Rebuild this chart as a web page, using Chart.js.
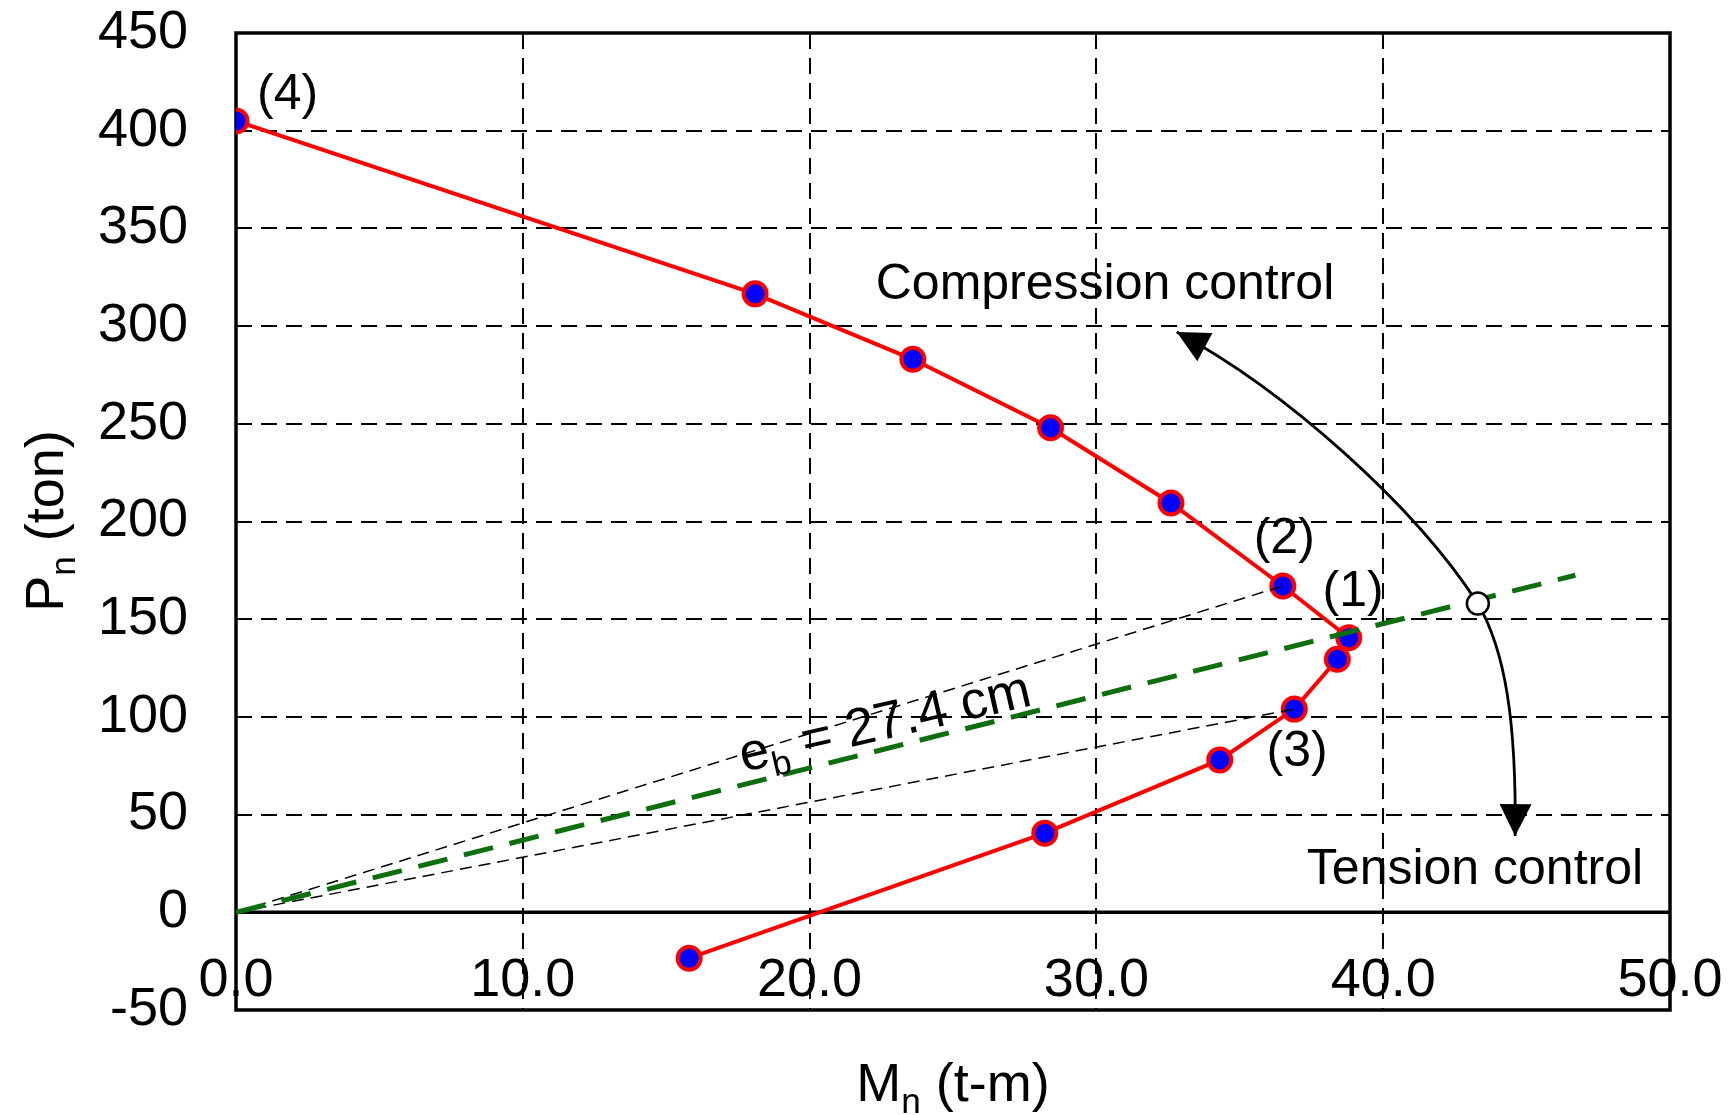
<!DOCTYPE html>
<html>
<head>
<meta charset="utf-8">
<script src="https://cdn.jsdelivr.net/npm/chart.js@4.4.0/dist/chart.umd.min.js"></script>
<style>
  html, body { margin: 0; padding: 0; background: #fff; }
  canvas { display: block; }
</style>
</head>
<body>
<canvas id="chart" width="1733" height="1115"></canvas>
<script>
// interaction diagram: Mn (t-m) vs Pn (ton)
const mnValues = [0.0, 18.1, 23.6, 28.4, 32.6, 36.5, 38.8, 38.4, 36.9, 34.3, 28.2, 15.8];
const pnValues = [405, 316.5, 283, 248, 209.5, 167, 140.5, 129.5, 104, 78, 40.5, -23.5];

// balanced eccentricity line eb = 27.4 cm
const ebLineM = [0, 46.7];
const ebLineP = [0, 172.5];

// open marker where the arc crosses the eb line
const markM = [43.3];
const markP = [158];

// curved arrows (start, control 1, control 2, tip) in data units
const arcUpM = [43.3, 41.1, 36.6, 32.8];
const arcUpP = [158, 208, 267, 297];
const arcDownM = [43.3, 44.25, 44.65, 44.6];
const arcDownP = [158, 134, 98, 39];

// axis ticks
const mTicks = [0, 10, 20, 30, 40, 50];
const pTicks = [-50, 0, 50, 100, 150, 200, 250, 300, 350, 400, 450];
const mTickRow = -35; // x tick labels sit inside the plot, below zero

// point labels
const labelText = ['(4)', '(2)', '(1)', '(3)', 'Compression control', 'Tension control'];
const labelM = [1.8, 36.55, 38.95, 37.0, 30.3, 43.2];
const labelP = [418, 191, 164, 82, 321, 21.5];

const FONT = '"Liberation Sans", Arial, sans-serif';

const pts = (xs, ys) => xs.map((x, i) => ({ x: x, y: ys[i] }));
// rays from origin to points (2) and (3)
const ray2 = pts([0, mnValues[5]], [0, pnValues[5]]);
const ray3 = pts([0, mnValues[8]], [0, pnValues[8]]);

function subText(ctx, parts, cx, cy, size) {
  // parts: [text, isSub]
  let w = 0;
  parts.forEach(p => {
    ctx.font = (p[1] ? size * 0.65 : size) + 'px ' + FONT;
    w += ctx.measureText(p[0]).width;
  });
  let x = cx - w / 2;
  ctx.textAlign = 'left';
  ctx.textBaseline = 'alphabetic';
  parts.forEach(p => {
    ctx.font = (p[1] ? size * 0.65 : size) + 'px ' + FONT;
    ctx.fillText(p[0], x, cy + size * 0.36 + (p[1] ? size * 0.22 : 0));
    x += ctx.measureText(p[0]).width;
  });
}

function arrowHead(ctx, tx, ty, fx, fy) {
  const a = Math.atan2(ty - fy, tx - fx);
  const len = 32, hw = 16;
  ctx.beginPath();
  ctx.moveTo(tx, ty);
  ctx.lineTo(tx - len * Math.cos(a) + hw * Math.sin(a), ty - len * Math.sin(a) - hw * Math.cos(a));
  ctx.lineTo(tx - len * Math.cos(a) - hw * Math.sin(a), ty - len * Math.sin(a) + hw * Math.cos(a));
  ctx.closePath();
  ctx.fill();
}

const overlay = {
  id: 'overlay',
  beforeDatasetsDraw(chart) {
    const ctx = chart.ctx, a = chart.chartArea;
    const xs = chart.scales.x, ys = chart.scales.y;
    ctx.save();
    ctx.strokeStyle = '#000';
    ctx.lineWidth = 3.5;
    ctx.setLineDash([]);
    ctx.strokeRect(a.left, a.top, a.right - a.left, a.bottom - a.top);
    // zero line
    const y0 = ys.getPixelForValue(0);
    ctx.beginPath();
    ctx.moveTo(a.left, y0);
    ctx.lineTo(a.right, y0);
    ctx.stroke();

    // x tick labels, from the x scale's ticks
    ctx.fillStyle = '#000';
    ctx.font = '54px ' + FONT;
    ctx.textAlign = 'center';
    ctx.textBaseline = 'middle';
    xs.ticks.forEach(t => {
      ctx.fillText(t.value.toFixed(1), xs.getPixelForValue(t.value), ys.getPixelForValue(mTickRow));
    });

    // curved arrows
    ctx.lineWidth = 2.8;
    [[arcUpM, arcUpP], [arcDownM, arcDownP]].forEach(arc => {
      const px = arc[0].map(v => xs.getPixelForValue(v));
      const py = arc[1].map(v => ys.getPixelForValue(v));
      ctx.beginPath();
      ctx.moveTo(px[0], py[0]);
      ctx.bezierCurveTo(px[1], py[1], px[2], py[2], px[3], py[3]);
      ctx.stroke();
      arrowHead(ctx, px[3], py[3], px[2], py[2]);
    });
    ctx.restore();
  },
  afterDatasetsDraw(chart) {
    const ctx = chart.ctx, a = chart.chartArea;
    const xs = chart.scales.x, ys = chart.scales.y;
    ctx.save();
    ctx.fillStyle = '#000';
    ctx.textAlign = 'center';
    ctx.textBaseline = 'middle';
    ctx.font = '50px ' + FONT;
    labelText.forEach((t, i) => {
      ctx.fillText(t, xs.getPixelForValue(labelM[i]), ys.getPixelForValue(labelP[i]));
    });

    // eb label, rotated along the rays
    ctx.save();
    ctx.translate(xs.getPixelForValue(22.6), ys.getPixelForValue(98.5));
    ctx.rotate(-13 * Math.PI / 180);
    subText(ctx, [['e', false], ['b', true], [' = 27.4 cm', false]], 0, 0, 53);
    ctx.restore();

    // axis titles
    subText(ctx, [['M', false], ['n', true], [' (t-m)', false]], (a.left + a.right) / 2, 1082, 54);
    ctx.save();
    ctx.translate(44, 521);
    ctx.rotate(-Math.PI / 2);
    subText(ctx, [['P', false], ['n', true], [' (ton)', false]], 0, 0, 54);
    ctx.restore();
    ctx.restore();
  }
};

new Chart(document.getElementById('chart'), {
  type: 'scatter',
  data: {
    datasets: [
      {
        data: pts(markM, markP),
        pointRadius: 11,
        pointBackgroundColor: '#fff',
        pointBorderColor: '#000',
        pointBorderWidth: 2.5
      },
      {
        data: pts(ebLineM, ebLineP),
        showLine: true,
        borderColor: '#0c6e0c',
        borderWidth: 5,
        borderDash: [30, 17],
        pointRadius: 0
      },
      {
        data: ray2,
        showLine: true,
        borderColor: '#000',
        borderWidth: 1.5,
        borderDash: [12, 7],
        pointRadius: 0
      },
      {
        data: ray3,
        showLine: true,
        borderColor: '#000',
        borderWidth: 1.5,
        borderDash: [12, 7],
        pointRadius: 0
      },
      {
        data: pts(mnValues, pnValues),
        showLine: true,
        borderColor: '#ff0000',
        borderWidth: 4,
        pointRadius: 11.5,
        pointBackgroundColor: '#0000ff',
        pointBorderColor: '#ff0000',
        pointBorderWidth: 4
      }
    ]
  },
  options: {
    responsive: false,
    animation: false,
    layout: { padding: { left: 0, right: 63, top: 33, bottom: 0 } },
    plugins: { legend: { display: false }, tooltip: { enabled: false } },
    scales: {
      x: {
        type: 'linear',
        min: mTicks[0],
        max: mTicks[mTicks.length - 1],
        afterBuildTicks: s => { s.ticks = mTicks.map(v => ({ value: v })); },
        afterFit: s => { s.height = 105; s.paddingLeft = 0; s.paddingRight = 0; },
        ticks: { display: false },
        grid: { color: '#000', lineWidth: 2, drawTicks: false },
        border: { display: false, dash: [16, 9] }
      },
      y: {
        min: pTicks[0],
        max: pTicks[pTicks.length - 1],
        afterBuildTicks: s => { s.ticks = pTicks.map(v => ({ value: v })); },
        afterFit: s => { s.width = 236; s.paddingTop = 0; s.paddingBottom = 0; },
        ticks: {
          color: '#000',
          font: { family: FONT, size: 54 },
          padding: 48,
          autoSkip: false
        },
        grid: { color: '#000', lineWidth: 2, drawTicks: false },
        border: { display: false, dash: [16, 9] }
      }
    }
  },
  plugins: [overlay]
});
</script>
</body>
</html>
